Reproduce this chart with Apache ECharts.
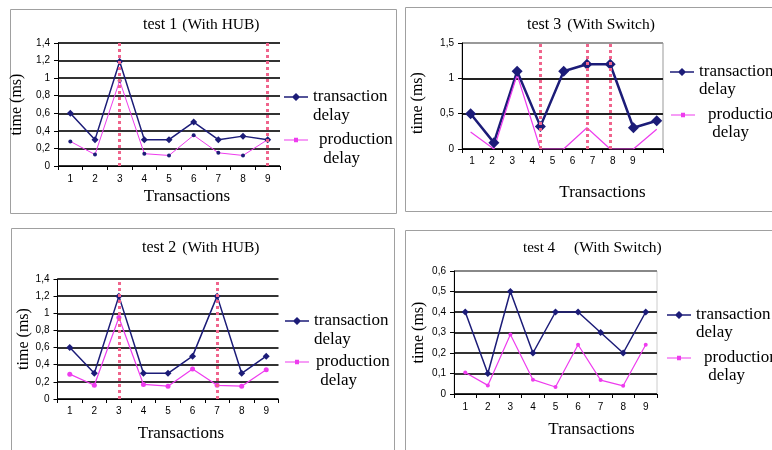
<!DOCTYPE html>
<html><head><meta charset="utf-8">
<script src="https://cdn.jsdelivr.net/npm/echarts@6/dist/echarts.min.js"></script>
<style>html,body{margin:0;padding:0;background:#fff}#c{width:772px;height:450px}</style>
</head><body><div id="c"></div>
<script>
// ---- data ----
const categories = ['1','2','3','4','5','6','7','8','9'];
const test1Transaction = [0.6, 0.3, 1.19, 0.3, 0.3, 0.5, 0.3, 0.34, 0.3];
const test1Production  = [0.28, 0.13, 0.97, 0.14, 0.12, 0.35, 0.15, 0.12, 0.3];
const test1Marks = ['3', '9'];
const test2Transaction = [0.6, 0.3, 1.2, 0.3, 0.3, 0.5, 1.2, 0.3, 0.5];
const test2Production  = [0.29, 0.16, 0.95, 0.17, 0.15, 0.35, 0.16, 0.15, 0.34];
const test2Marks = ['3', '7'];
const test3TickLabels = ['1','2','3','4','5','6','7','8','9',''];
const test3Points = [1, 2, 3, 4, 5, 6, 7, 8, 9];
const test3Transaction = [0.5, 0.09, 1.1, 0.32, 1.1, 1.2, 1.2, 0.3, 0.4];
const test3Production  = [0.24, 0, 1.05, 0, 0, 0.3, 0, 0, 0.28];
const test3Marks = [4, 6, 7];
const test4Transaction = [0.4, 0.1, 0.5, 0.2, 0.4, 0.4, 0.3, 0.2, 0.4];
const test4Production  = [0.105, 0.042, 0.29, 0.07, 0.034, 0.24, 0.068, 0.04, 0.24];
const titles = [['test 1', '(With HUB)'], ['test 2', '(With HUB)'], ['test 3', '(With Switch)'], ['test 4', '(With Switch)']];
const seriesNames = ['transaction delay', 'production delay'];

// ---- styles ----
const SERIF = '"Liberation Serif","Times New Roman",serif';
const SANS = '"Liberation Sans",Arial,sans-serif';
const NAVY = '#1c1c78', PINK = '#ee3cee', DOT = '#f0648c';
const ICON_T = 'path://M0,3.3L8.7,3.3L12,0L15.3,3.3L24,3.3L24,4.7L15.3,4.7L12,8L8.7,4.7L0,4.7Z';
const ICON_P = 'path://M0,3.5L10,3.5L10,1.7L14,1.7L14,3.5L24,3.5L24,4.5L14,4.5L14,6.3L10,6.3L10,4.5L0,4.5Z';

const fmt = v => String(Math.round(v * 10) / 10).replace('.', ',');

function yAx(gridIndex, max, interval, nameGap, splitColors, namePad) {
  return {
    type: 'value', gridIndex, min: 0, max, interval,
    name: 'time (ms)', nameLocation: 'middle', nameGap,
    nameTextStyle: {fontFamily: SERIF, fontSize: 16, color: '#000', padding: namePad},
    axisLine: {show: true, lineStyle: {color: '#000', width: 1}},
    axisTick: {show: true, length: 4, lineStyle: {color: '#000'}},
    axisLabel: {fontFamily: SANS, fontSize: 10, color: '#000', margin: 8, formatter: fmt},
    splitLine: {show: true, lineStyle: {color: splitColors, width: 2}}
  };
}
function xCat(gridIndex, data, nameGap, padLeft, margin) {
  return {
    type: 'category', gridIndex, data, boundaryGap: true,
    name: 'Transactions', nameLocation: 'middle', nameGap,
    nameTextStyle: {fontFamily: SERIF, fontSize: 17, color: '#000', padding: [0, 0, 0, padLeft]},
    axisLine: {show: true, lineStyle: {color: '#000', width: 1}},
    axisTick: {show: true, length: 4, lineStyle: {color: '#000'}},
    axisLabel: {fontFamily: SANS, fontSize: 10, color: '#000', margin, interval: 0},
    splitLine: {show: false}
  };
}
function markLines(list) {
  return {
    silent: true, symbol: ['none', 'none'], label: {show: false},
    lineStyle: {color: DOT, width: 3, type: [3, 3], opacity: 1},
    data: list.map(v => ({xAxis: v}))
  };
}
function lineSeries(name, xi, yi, data, color, width, symbol, size, symColor, marks) {
  const s = {
    name, type: 'line', xAxisIndex: xi, yAxisIndex: yi, data,
    symbol, symbolSize: size, showAllSymbol: true,
    lineStyle: {color, width},
    itemStyle: {color: symColor || color},
    emphasis: {disabled: true},
    animation: false, z: 3
  };
  if (marks) s.markLine = markLines(marks);
  return s;
}
function title(i, left, top, s1, s2, gapPad) {
  return {
    left, top, padding: 0,
    text: '{a|' + titles[i][0] + '}{b|' + titles[i][1] + '}',
    textStyle: {
      fontWeight: 'normal',
      rich: {
        a: {fontFamily: SERIF, fontSize: s1, fontWeight: 'normal', color: '#000', lineHeight: 18},
        b: {fontFamily: SERIF, fontSize: s2, fontWeight: 'normal', color: '#000', lineHeight: 18, padding: [0, 0, 0, gapPad]}
      }
    }
  };
}
function legend(name, left, iconY, lh, padLeft, color, icon, label) {
  return {
    show: true, orient: 'vertical', left, top: iconY - 1.5 * lh, padding: 0,
    itemWidth: 24, itemHeight: 8, itemGap: 0, selectedMode: false,
    data: [{name, icon, itemStyle: {color, borderWidth: 0}}],
    formatter: () => label,
    textStyle: {fontFamily: SERIF, fontSize: 17, lineHeight: lh, color: '#000', padding: [0, 0, 0, padLeft]}
  };
}

const option = {
  backgroundColor: '#fff',
  animation: false,
  title: [
    title(0, 143, 16, 16, 15.5, 5),
    title(1, 142, 239, 16, 15.5, 6),
    title(2, 527, 16, 16, 15.5, 6),
    title(3, 523, 239, 15, 15.5, 19)
  ],
  legend: [
    legend(seriesNames[0], 284, 97, 19, 0, NAVY, ICON_T, '\ntransaction\ndelay'),
    legend(seriesNames[1], 284, 140, 19, 6, PINK, ICON_P, '\nproduction\n delay'),
    legend(seriesNames[0], 285, 321, 19, 0, NAVY, ICON_T, '\ntransaction\ndelay'),
    legend(seriesNames[1], 285, 362, 19, 2, PINK, ICON_P, '\nproduction\n delay'),
    legend(seriesNames[0], 670, 72, 18, 0, NAVY, ICON_T, '\ntransaction\ndelay'),
    legend(seriesNames[1], 671, 115, 18, 8, PINK, ICON_P, '\nproduction\n delay'),
    legend(seriesNames[0], 667, 315, 18, 0, NAVY, ICON_T, '\ntransaction\ndelay'),
    legend(seriesNames[1], 667, 358, 18, 8, PINK, ICON_P, '\nproduction\n delay')
  ],
  grid: [
    {left: 58, top: 43, width: 222, height: 123},
    {left: 57.5, top: 279, width: 221, height: 120},
    {left: 462, top: 43, width: 201, height: 106, show: true, borderColor: '#999', borderWidth: 1},
    {left: 454, top: 271, width: 203, height: 123, show: true, borderColor: '#ccc', borderWidth: 1}
  ],
  xAxis: [
    xCat(0, categories, 22, 36, 8),
    xCat(1, categories, 26, 26, 7),
    xCat(2, test3TickLabels, 35, 80, 7),
    {type: 'value', gridIndex: 2, min: 0.63, max: 9.27, show: false},
    xCat(3, categories, 27, 72, 8)
  ],
  yAxis: [
    yAx(0, 1.4, 0.2, 33, ['#333'], [0, 0, 0, 0]),
    yAx(1, 1.4, 0.2, 19, ['#333'], [0, 0, 0, 0]),
    yAx(2, 1.5, 0.5, 36, ['#222', '#222', '#222', '#999'], [0, 14, 0, 0]),
    yAx(3, 0.6, 0.1, 27, ['#333', '#333', '#333', '#333', '#333', '#333', '#888'], [0, 0, 0, 0])
  ],
  series: [
    lineSeries(seriesNames[0], 1, 1, test2Transaction, NAVY, 1.5, 'diamond', 7, null, test2Marks.map(c => categories.indexOf(c))),
    lineSeries(seriesNames[1], 1, 1, test2Production, PINK, 1.2, 'circle', 5, null, null),
    lineSeries(seriesNames[0], 0, 0, test1Transaction, NAVY, 1.5, 'diamond', 7, null, test1Marks.map(c => categories.indexOf(c))),
    lineSeries(seriesNames[1], 0, 0, test1Production, PINK, 1, 'circle', 4, NAVY, null),
    lineSeries(seriesNames[0], 3, 2, test3Points.map((x, i) => [x, test3Transaction[i]]), NAVY, 2.5, 'diamond', 11, null, test3Marks),
    lineSeries(seriesNames[1], 3, 2, test3Points.map((x, i) => [x, test3Production[i]]), PINK, 1.2, 'none', 3, null, null),
    lineSeries(seriesNames[0], 4, 3, test4Transaction, NAVY, 1.5, 'diamond', 7, null, null),
    lineSeries(seriesNames[1], 4, 3, test4Production, PINK, 1.2, 'circle', 4, null, null)
  ],
  graphic: [
    {type: 'rect', z: -10, silent: true, shape: {x: 10.5, y: 9.5, width: 386, height: 204}, style: {fill: 'none', stroke: '#a0a0a0', lineWidth: 1}},
    {type: 'rect', z: -10, silent: true, shape: {x: 11.5, y: 228.5, width: 383, height: 240}, style: {fill: 'none', stroke: '#a0a0a0', lineWidth: 1}},
    {type: 'rect', z: -10, silent: true, shape: {x: 405.5, y: 7.5, width: 400, height: 204}, style: {fill: 'none', stroke: '#a0a0a0', lineWidth: 1}},
    {type: 'rect', z: -10, silent: true, shape: {x: 405.5, y: 230.5, width: 400, height: 240}, style: {fill: 'none', stroke: '#a0a0a0', lineWidth: 1}}
  ]
};
const chart = echarts.init(document.getElementById('c'));
chart.setOption(option);
</script>
</body></html>
